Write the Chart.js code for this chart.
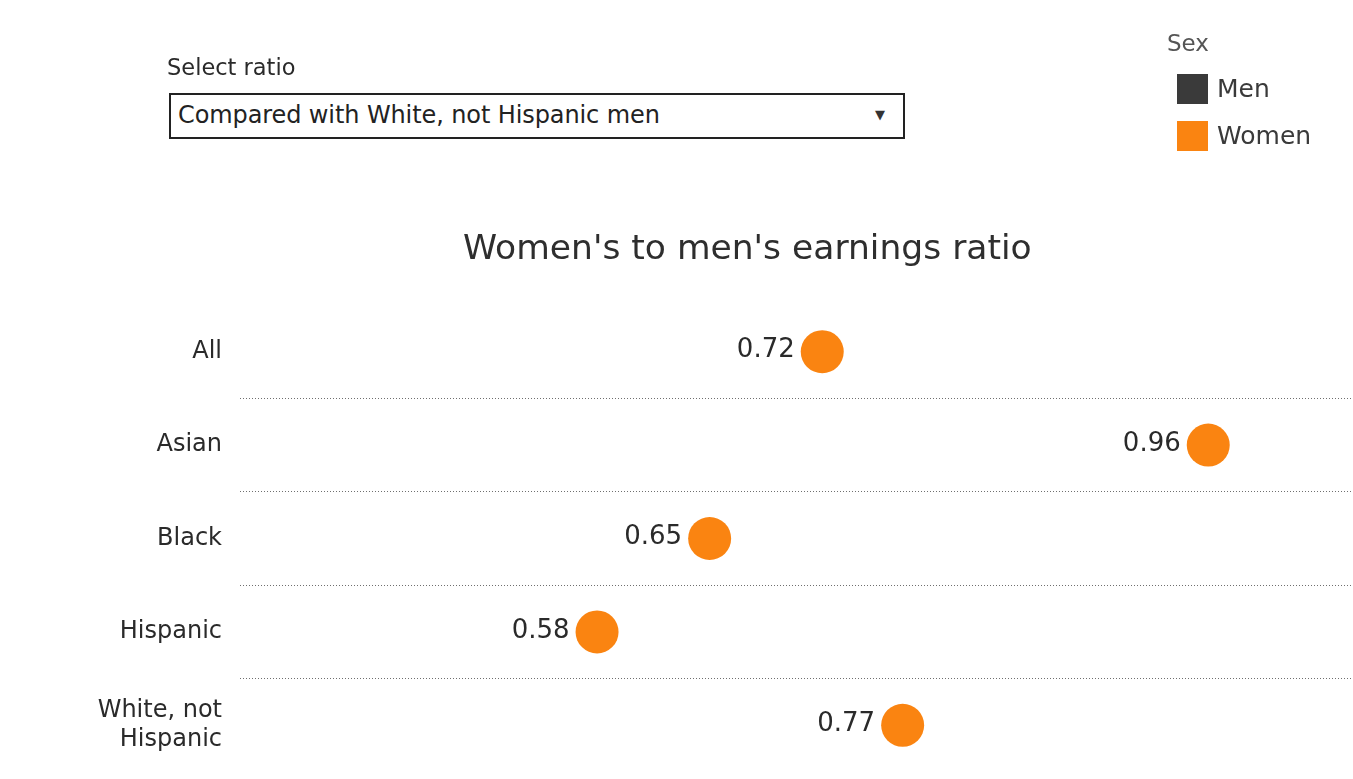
<!DOCTYPE html>
<html>
<head>
<meta charset="utf-8">
<script src="https://cdn.jsdelivr.net/npm/chart.js@4/dist/chart.umd.min.js"></script>
<style>
  html, body { margin: 0; padding: 0; background: #fff; }
  body { width: 1353px; height: 779px; position: relative; overflow: hidden;
         font-family: "DejaVu Sans", sans-serif; color: #333; }
  #chartWrap { position: absolute; left: 0; top: 0; width: 1353px; height: 779px; }
  .selLabel { position: absolute; left: 167px; top: 54px; font-size: 22.5px; color: #2a2a2a; }
  .selBox { position: absolute; left: 169px; top: 93px; width: 732px; height: 42px;
            border: 2px solid #222; background: #fff; }
  .selBox span.txt { position: absolute; left: 7px; top: 6px; font-size: 24px; color: #222;
                     letter-spacing: -0.1px; }
  .selBox span.arrow { position: absolute; right: 18px; top: 12px; font-size: 13px; color: #333; }
  .legend { position: absolute; left: 0; top: 0; }
  .legend .ttl { position: absolute; left: 1167px; top: 30px; font-size: 23px; color: #555; white-space: nowrap; }
  .legend .sw { position: absolute; width: 31px; height: 30px; }
  .legend .lbl { position: absolute; font-size: 25px; color: #3a3a3a; white-space: nowrap; }
  .chartTitle { position: absolute; left: 463px; top: 227px; font-size: 34.5px; color: #2e2e2e; white-space: nowrap; }
</style>
</head>
<body>
<div id="chartWrap"><canvas id="c" width="1353" height="779"></canvas></div>
<div class="selLabel">Select ratio</div>
<div class="selBox"><span class="txt">Compared with White, not Hispanic men</span><span class="arrow">&#9660;</span></div>
<div class="legend" id="legend"></div>
<div class="chartTitle" id="title"></div>
<script>
// Race / ethnicity groups and the women's-to-men's earnings ratios
const categories = [['All'], ['Asian'], ['Black'], ['Hispanic'], ['White, not', 'Hispanic']];
const womenRatio = [0.72, 0.96, 0.65, 0.58, 0.77];
const seriesNames = ['Men', 'Women'];
const seriesColors = ['#3a3a3a', '#FA8411'];
const legendTitle = 'Sex';
const chartTitle = "Women's to men's earnings ratio";

const FONT = '"DejaVu Sans", sans-serif';

document.getElementById('title').textContent = chartTitle;

// Legend built from the series names and colours
const legendEl = document.getElementById('legend');
const lt = document.createElement('div');
lt.className = 'ttl';
lt.textContent = legendTitle;
legendEl.appendChild(lt);
seriesNames.forEach((name, i) => {
  const sw = document.createElement('div');
  sw.className = 'sw';
  sw.style.left = '1177px';
  sw.style.top = (74 + i * 47) + 'px';
  sw.style.background = seriesColors[i];
  const lb = document.createElement('div');
  lb.className = 'lbl';
  lb.style.left = '1217px';
  lb.style.top = (74 + i * 47) + 'px';
  lb.textContent = name;
  legendEl.appendChild(sw);
  legendEl.appendChild(lb);
});

// Writes each ratio just left of its dot
const valueLabels = {
  id: 'valueLabels',
  afterDatasetsDraw(chart) {
    const ctx = chart.ctx;
    chart.data.datasets.forEach((ds, di) => {
      const meta = chart.getDatasetMeta(di);
      if (meta.hidden) return;
      meta.data.forEach((pt, i) => {
        const v = ds.data[i];
        if (v == null) return;
        const r = pt.options.radius;
        ctx.save();
        ctx.font = '26px ' + FONT;
        ctx.fillStyle = '#2a2a2a';
        ctx.textAlign = 'right';
        ctx.textBaseline = 'middle';
        ctx.fillText(v.toFixed(2), pt.x - r - 6, pt.y - 1);
        ctx.restore();
      });
    });
  }
};

new Chart(document.getElementById('c'), {
  type: 'line',
  data: {
    labels: categories,
    datasets: [{
      label: seriesNames[1],
      data: womenRatio,
      showLine: false,
      pointStyle: 'circle',
      pointRadius: 21.5,
      pointHoverRadius: 21.5,
      pointBackgroundColor: seriesColors[1],
      pointBorderWidth: 0,
      borderColor: seriesColors[1]
    }]
  },
  options: {
    indexAxis: 'y',
    responsive: false,
    animation: false,
    events: [],
    layout: { autoPadding: false, padding: { top: 305, bottom: 7, left: 0, right: 0 } },
    plugins: { legend: { display: false }, title: { display: false }, tooltip: { enabled: false } },
    scales: {
      x: { type: 'linear', display: false, min: 0.358, max: 1.05 },
      y: {
        type: 'category',
        offset: true,
        afterFit(scale) {
          scale.width = 240;
          // rows fill the band exactly; labels need no extra edge room
          scale.paddingTop = 0;
          scale.paddingBottom = 0;
        },
        border: { display: false, dash: [1, 2] },
        grid: {
          offset: true,
          drawTicks: false,
          lineWidth: 1,
          color: (c) => (c.type !== 'tick' || c.index === 0) ? 'rgba(0,0,0,0)' : '#6f6f6f'
        },
        ticks: {
          padding: 18,
          color: '#2a2a2a',
          font: { family: FONT, size: 24 },
          crossAlign: 'near'
        }
      }
    }
  },
  plugins: [valueLabels]
});
</script>
</body>
</html>
